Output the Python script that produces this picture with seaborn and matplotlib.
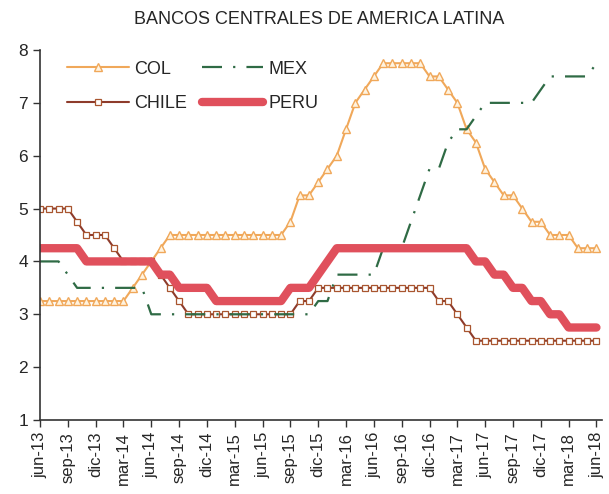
import matplotlib
matplotlib.use("Agg")
import matplotlib.pyplot as plt
import seaborn as sns
import pandas as pd
import numpy as np

sns.set_style("white")
plt.rcParams['font.family'] = ['Liberation Sans', 'DejaVu Sans']

# monthly data jun-13 .. jun-18 (61 months)
months_es = ["ene", "feb", "mar", "abr", "may", "jun", "jul", "ago", "sep", "oct", "nov", "dic"]
col = [3.25]*10 + [3.5, 3.75, 4.0, 4.25] + [4.5]*13 + [4.75, 5.25, 5.25, 5.5, 5.75, 6.0, 6.5, 7.0, 7.25, 7.5] \
      + [7.75]*5 + [7.5, 7.5, 7.25, 7.0, 6.5, 6.25, 5.75, 5.5] + [5.25, 5.25, 5.0, 4.75, 4.75] + [4.5]*3 + [4.25]*3
chile = [5.0]*4 + [4.75] + [4.5]*3 + [4.25] + [4.0]*4 + [3.75, 3.5, 3.25] + [3.0]*12 + [3.25]*2 + [3.5]*13 \
        + [3.25]*2 + [3.0, 2.75] + [2.5]*14
mex = [4.0]*3 + [3.75] + [3.5]*8 + [3.0]*18 + [3.25]*2 + [3.75]*5 + [4.25]*3 + [4.75, 5.25, 5.75, 5.75, 6.25, 6.5, 6.5, 6.75] \
      + [7.0]*6 + [7.25] + [7.5]*5 + [7.75]
peru = [4.25]*5 + [4.0]*8 + [3.75]*2 + [3.5]*4 + [3.25]*8 + [3.5]*3 + [3.75, 4.0] + [4.25]*15 \
       + [4.0]*2 + [3.75]*2 + [3.5]*2 + [3.25]*2 + [3.0]*2 + [2.75]*4

n = len(col)
labels = []
for i in range(n):
    m = (5 + i) % 12
    y = 13 + (5 + i) // 12
    labels.append(f"{months_es[m]}-{y}")
idx = np.arange(n)
df = pd.DataFrame({"i": idx, "COL": col, "CHILE": chile, "MEX": mex, "PERU": peru})

fig = plt.figure(figsize=(6.09, 4.94), dpi=100)
ax = fig.add_axes([40/609, 1-420/494, 562/609, 370/494])

c_col = "#F0A85A"
c_chile = "#8E3B2B"
c_mex = "#2F6B45"
c_peru = "#E0505C"

sns.lineplot(data=df, x="i", y="COL", ax=ax, color=c_col, lw=1.5, marker="^", markersize=6,
             markerfacecolor="#FFF3E0", markeredgecolor=c_col, markeredgewidth=1.0, label="COL")
sns.lineplot(data=df, x="i", y="CHILE", ax=ax, color=c_chile, lw=1.5, marker="s", markersize=4.5,
             markerfacecolor="white", markeredgecolor="#A8552F", markeredgewidth=0.9, label="CHILE")
sns.lineplot(data=df, x="i", y="MEX", ax=ax, color=c_mex, lw=1.6, label="MEX")
ax.lines[-1].set_dashes((9, 5, 1, 5))
sns.lineplot(data=df, x="i", y="PERU", ax=ax, color=c_peru, lw=6, label="PERU",
             solid_capstyle="round", solid_joinstyle="round")

ax.set_xlim(0, 60.6)
ax.set_ylim(1, 8)
ax.set_yticks(range(1, 9))
ax.set_xticks(idx[::3])
ax.set_xticklabels(labels[::3], rotation=90, fontsize=12)
ax.tick_params(axis='y', labelsize=12.5)
ax.tick_params(axis='both', direction='out', length=5, width=1, color="#333333", bottom=True, left=True)
ax.set_xlabel("")
ax.set_ylabel("")
for s in ["top", "right"]:
    ax.spines[s].set_visible(False)
for s in ["left", "bottom"]:
    ax.spines[s].set_color("#333333")
    ax.spines[s].set_linewidth(1.2)

handles, lbls = ax.get_legend_handles_labels()
order = [lbls.index(k) for k in ["COL", "CHILE", "MEX", "PERU"]]
ax.legend([handles[k] for k in order], [lbls[k] for k in order], ncol=2, frameon=False,
          loc="upper left", bbox_to_anchor=(0.02, 1.015), fontsize=13, handlelength=3.4,
          handletextpad=0.3, columnspacing=0.8, labelspacing=0.95)

fig.text(319/609, 1-19/494, "BANCOS CENTRALES DE AMERICA LATINA", ha="center", va="center", fontsize=13)

fig.savefig("out.png", dpi=100)
